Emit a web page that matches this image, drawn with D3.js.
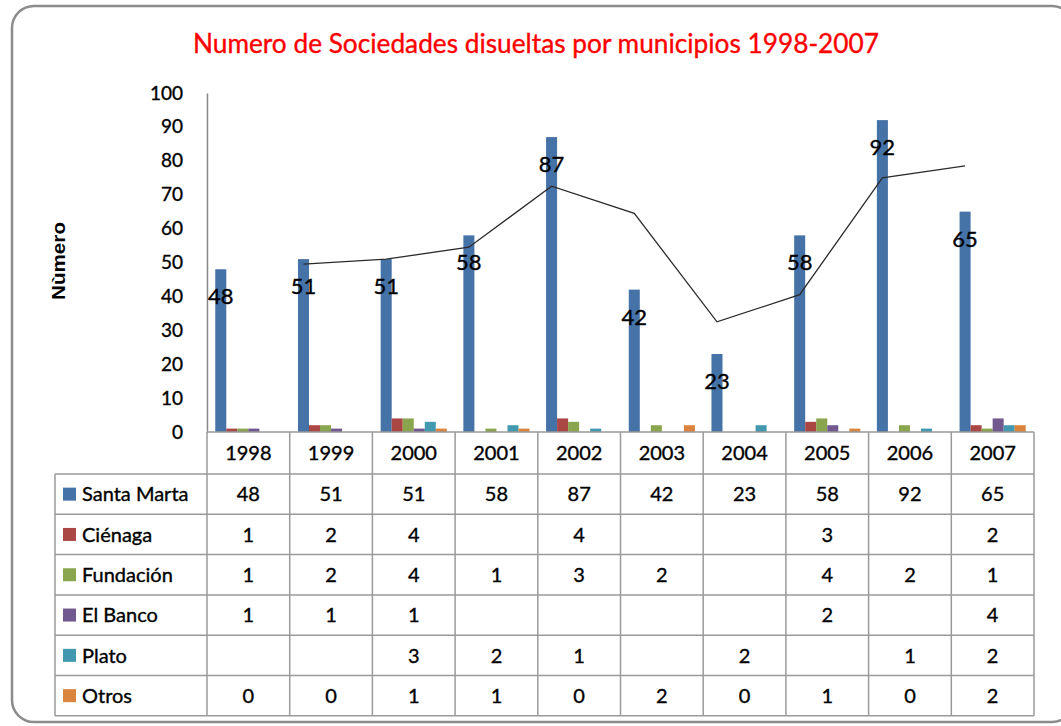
<!DOCTYPE html>
<html>
<head>
<meta charset="utf-8">
<script src="https://cdn.jsdelivr.net/npm/d3@7"></script>
<style>
  body { margin: 0; background: #fff; }
  svg { display: block; }
  text { stroke: currentColor; stroke-width: 0.35px; }
</style>
</head>
<body>
<svg id="chart" width="1061" height="726"></svg>
<script>
// datos
var years = ["1998","1999","2000","2001","2002","2003","2004","2005","2006","2007"];
var seriesNames = ["Santa Marta","Ciénaga","Fundación","El Banco","Plato","Otros"];
var santaMarta = [48,51,51,58,87,42,23,58,92,65];
var cienaga    = [1,2,4,null,4,null,null,3,null,2];
var fundacion  = [1,2,4,1,3,2,null,4,2,1];
var elBanco    = [1,1,1,null,null,null,null,2,null,4];
var plato      = [null,null,3,2,1,null,2,null,1,2];
var otros      = [0,0,1,1,0,2,0,1,0,2];
// linea de tendencia (media movil)
var trendValues = [null,49.5,51,54.5,72.5,64.5,32.5,40.5,75,78.5];
var yTicks = [0,10,20,30,40,50,60,70,80,90,100];
var colors = ["#4572A7","#AA4643","#89A54E","#71588F","#4198AF","#DB843D"];

var allSeries = [santaMarta, cienaga, fundacion, elBanco, plato, otros];
var font = "Lato, 'Open Sans', sans-serif";

var svg = d3.select("#chart");

// marco redondeado
svg.append("rect")
  .attr("x", 12).attr("y", 6)
  .attr("width", 1062).attr("height", 716)
  .attr("rx", 22).attr("ry", 22)
  .attr("fill", "#fff")
  .attr("stroke", "#8c8c8c")
  .attr("stroke-width", 2.5);

// titulo
svg.append("text")
  .attr("x", 536).attr("y", 53)
  .attr("text-anchor", "middle")
  .attr("fill", "#ff0000")
  .style("color", "#ff0000")
  .style("font-family", font)
  .style("font-size", "26px")
  .attr("textLength", 686)
  .attr("lengthAdjust", "spacingAndGlyphs")
  .text("Numero de Sociedades disueltas por municipios 1998-2007");

var plotLeft = 207, plotRight = 1034, plotTop = 93, plotBottom = 432;

var x = d3.scaleBand().domain(years).range([plotLeft, plotRight]);
var bw = x.bandwidth();
var gap = bw * 0.2;
var x1 = d3.scaleBand().domain(seriesNames).range([gap/2, bw - gap/2]);
var y = d3.scaleLinear().domain([0, 100]).range([plotBottom, plotTop]);

// eje y
var yAxis = d3.axisLeft(y).tickValues(yTicks).tickSize(0).tickPadding(24);
var gy = svg.append("g")
  .attr("transform", "translate(" + plotLeft + ",0)")
  .call(yAxis);
gy.select(".domain").attr("stroke", "#868686").attr("stroke-width", 1.5);
gy.selectAll("text")
  .style("font-family", font)
  .style("font-size", "19px")
  .style("color", "#000")
  .attr("fill", "#000");

svg.append("text")
  .attr("transform", "translate(65,261)rotate(-90)")
  .attr("text-anchor", "middle")
  .style("font-family", "'Liberation Sans', Arial, sans-serif")
  .style("font-weight", "bold")
  .style("font-size", "18px")
  .style("stroke-width", "0")
  .attr("textLength", 78)
  .attr("lengthAdjust", "spacingAndGlyphs")
  .text("Nùmero");

// barras
var groups = svg.selectAll(".serie")
  .data(allSeries)
  .enter().append("g")
  .attr("class", "serie")
  .attr("fill", function (d, i) { return colors[i]; });

groups.each(function (vals, si) {
  d3.select(this).selectAll("rect")
    .data(vals.map(function (v, i) { return {year: years[i], value: v}; })
              .filter(function (d) { return d.value; }))
    .enter().append("rect")
    .attr("x", function (d) { return x(d.year) + x1(seriesNames[si]); })
    .attr("y", function (d) { return y(d.value); })
    .attr("width", x1.bandwidth())
    .attr("height", function (d) { return plotBottom - y(d.value); });
});

// linea de tendencia
var line = d3.line()
  .defined(function (d) { return d.value != null; })
  .x(function (d) { return x(d.year) + x1(seriesNames[0]) + x1.bandwidth()/2; })
  .y(function (d) { return y(d.value); });

svg.append("path")
  .datum(trendValues.map(function (v, i) { return {year: years[i], value: v}; }))
  .attr("d", line)
  .attr("fill", "none")
  .attr("stroke", "#2b2b2b")
  .attr("stroke-width", 1.3);

// etiquetas de Santa Marta
svg.selectAll(".lbl")
  .data(santaMarta)
  .enter().append("text")
  .attr("class", "lbl")
  .attr("x", function (d, i) { return x(years[i]) + x1(seriesNames[0]) + x1.bandwidth()/2; })
  .attr("y", function (d) { return y(d) + 35; })
  .attr("text-anchor", "middle")
  .style("font-family", font)
  .style("font-size", "22px")
  .text(function (d) { return d; });

// tabla de datos
var rowTop = 474, rowH = 40.3, tableLeft = 55;
var gridColor = "#9a9a9a";
var table = svg.append("g");

// eje x
table.append("line")
  .attr("x1", plotLeft).attr("x2", plotRight)
  .attr("y1", plotBottom).attr("y2", plotBottom)
  .attr("stroke", gridColor).attr("stroke-width", 1.5);

var tableBottom = rowTop + rowH * seriesNames.length;
var bounds = years.map(function (yr) { return x(yr); }).concat([plotRight]);
table.selectAll(".vline")
  .data(bounds)
  .enter().append("line")
  .attr("x1", function (d) { return d; }).attr("x2", function (d) { return d; })
  .attr("y1", plotBottom).attr("y2", tableBottom)
  .attr("stroke", gridColor).attr("stroke-width", 1.5);

table.append("line")
  .attr("x1", tableLeft).attr("x2", tableLeft)
  .attr("y1", rowTop).attr("y2", tableBottom)
  .attr("stroke", gridColor).attr("stroke-width", 1.5);

var hlines = d3.range(seriesNames.length + 1).map(function (i) { return rowTop + i * rowH; });
table.selectAll(".hline")
  .data(hlines)
  .enter().append("line")
  .attr("x1", tableLeft).attr("x2", plotRight)
  .attr("y1", function (d) { return d; }).attr("y2", function (d) { return d; })
  .attr("stroke", gridColor).attr("stroke-width", 1.5);

// cabecera con los años
table.selectAll(".year")
  .data(years)
  .enter().append("text")
  .attr("x", function (d) { return x(d) + bw/2; })
  .attr("y", (plotBottom + rowTop)/2)
  .attr("dy", "0.36em")
  .attr("text-anchor", "middle")
  .style("font-family", font)
  .style("font-size", "20px")
  .text(function (d) { return d; });

seriesNames.forEach(function (name, si) {
  var cy = rowTop + si * rowH + rowH/2;
  table.append("rect")
    .attr("x", 63).attr("y", cy - 6.5)
    .attr("width", 13).attr("height", 13)
    .attr("fill", colors[si]);
  table.append("text")
    .attr("x", 82).attr("y", cy)
    .attr("dy", "0.36em")
    .style("font-family", font)
    .style("font-size", "20px")
    .text(name);
  table.selectAll(".cell" + si)
    .data(allSeries[si])
    .enter().append("text")
    .attr("x", function (d, i) { return x(years[i]) + bw/2; })
    .attr("y", cy)
    .attr("dy", "0.36em")
    .attr("text-anchor", "middle")
    .style("font-family", font)
    .style("font-size", "20px")
    .text(function (d) { return d == null ? "" : d; });
});
</script>
</body>
</html>
